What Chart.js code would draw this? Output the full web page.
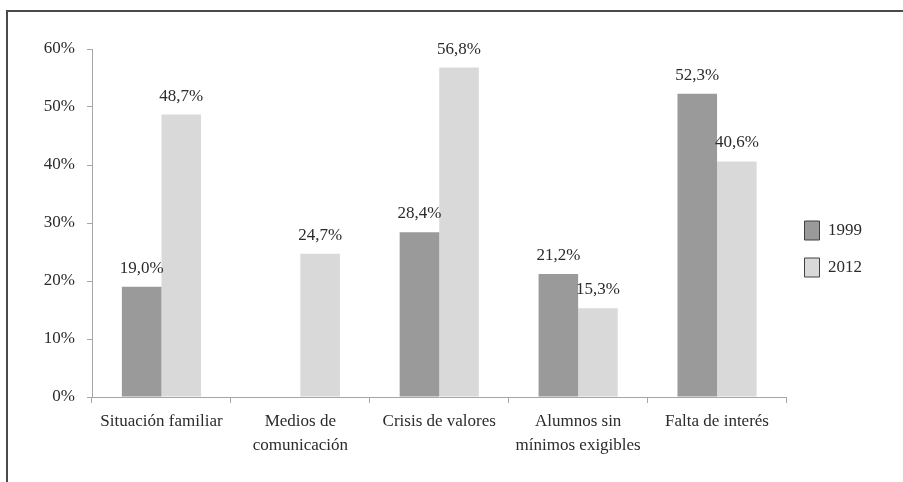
<!DOCTYPE html>
<html>
<head>
<meta charset="utf-8">
<script src="https://cdn.jsdelivr.net/npm/chart.js@4.4.0/dist/chart.umd.min.js"></script>
<style>
    html, body { margin: 0; padding: 0; background: #fff; overflow: hidden; }
    #wrap { position: relative; width: 903px; height: 482px; }
    #frame {
        position: absolute; left: 6px; top: 10px; width: 910px; height: 490px;
        border-left: 2px solid #4a4a4a; border-top: 2px solid #4a4a4a;
    }
    canvas { position: absolute; left: 0; top: 0; }
</style>
</head>
<body>
<div id="wrap">
    <div id="frame"></div>
    <canvas id="barChart" width="903" height="482"></canvas>
</div>
<script>
"use strict";

// Kategorier och värden
const categories = [
    "Situación familiar",
    ["Medios de", "comunicación"],
    "Crisis de valores",
    ["Alumnos sin", "mínimos exigibles"],
    "Falta de interés"
];
const values1999 = [19.0, null, 28.4, 21.2, 52.3];
const values2012 = [48.7, 24.7, 56.8, 15.3, 40.6];
const yTicks = [0, 10, 20, 30, 40, 50, 60];

const textColor = '#2b2b2b';
const fontFamily = '"Liberation Serif", "DejaVu Serif", serif';

/* Skriver ut värdet ovanför varje stapel */
const valueLabels = {
    id: 'valueLabels',
    afterDatasetsDraw(chart) {
        const ctx = chart.ctx;
        ctx.save();
        ctx.fillStyle = textColor;
        ctx.font = '17px ' + fontFamily;
        ctx.textAlign = 'center';
        ctx.textBaseline = 'bottom';
        chart.data.datasets.forEach((ds, i) => {
            const meta = chart.getDatasetMeta(i);
            meta.data.forEach((bar, j) => {
                const v = ds.data[j];
                if (v === null) return;
                ctx.fillText(v.toFixed(1).replace('.', ',') + '%', bar.x, bar.y - 10);
            });
        });
        ctx.restore();
    }
};

const ctx = document.getElementById('barChart');

new Chart(ctx, {
    type: 'bar',
    data: {
        labels: categories,
        datasets: [{
            label: '1999',
            data: values1999,
            backgroundColor: '#9a9a9a',
            borderWidth: 0
        }, {
            label: '2012',
            data: values2012,
            backgroundColor: '#d9d9d9',
            borderWidth: 0
        }]
    },
    options: {
        responsive: false,
        animation: false,
        layout: {
            padding: { top: 49, right: 31, bottom: 0, left: 0 }
        },
        datasets: {
            bar: { categoryPercentage: 0.57, barPercentage: 1.0 }
        },
        scales: {
            x: {
                grid: {
                    display: true,
                    drawOnChartArea: false,
                    offset: true,
                    color: '#a6a6a6',
                    tickLength: 6
                },
                border: { color: '#a6a6a6', width: 1 },
                ticks: {
                    color: textColor,
                    font: { family: fontFamily, size: 17, lineHeight: 1.4 },
                    padding: 7,
                    maxRotation: 0,
                    autoSkip: false
                },
                afterFit(scale) { scale.height = 85; }
            },
            y: {
                min: 0,
                max: 60,
                afterBuildTicks(scale) {
                    scale.ticks = yTicks.map(v => ({ value: v }));
                },
                grid: {
                    display: true,
                    drawOnChartArea: false,
                    color: '#a6a6a6',
                    tickLength: 5
                },
                border: { color: '#a6a6a6', width: 1 },
                ticks: {
                    color: textColor,
                    font: { family: fontFamily, size: 17 },
                    padding: 12,
                    callback: value => value + '%'
                },
                afterFit(scale) { scale.width = 92; }
            }
        },
        plugins: {
            tooltip: { enabled: false },
            legend: {
                position: 'right',
                fullSize: false,
                // tom titel som flyttar ner förklaringen något
                title: {
                    display: true,
                    text: '',
                    font: { size: 12 },
                    padding: { top: 37.6, bottom: 0 }
                },
                labels: {
                    color: textColor,
                    font: { family: fontFamily, size: 17 },
                    boxWidth: 15,
                    boxHeight: 19,
                    padding: 18,
                    generateLabels(chart) {
                        const items = Chart.defaults.plugins.legend.labels.generateLabels(chart);
                        items.forEach(item => {
                            item.lineWidth = 1;
                            item.strokeStyle = '#404040';
                        });
                        return items;
                    }
                }
            }
        }
    },
    plugins: [valueLabels]
});
</script>
</body>
</html>
